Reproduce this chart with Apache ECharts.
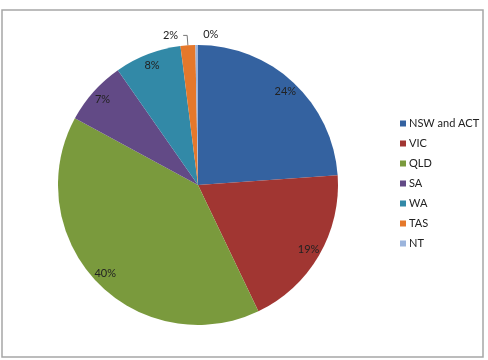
<!DOCTYPE html>
<html><head><meta charset="utf-8">
<script src="https://cdn.jsdelivr.net/npm/echarts@6/dist/echarts.min.js"></script>
<style>html,body{margin:0;padding:0;background:#fff;}#c{width:488px;height:360px;}</style>
</head><body><div id="c"></div>
<script>
const categories = ['NSW and ACT', 'VIC', 'QLD', 'SA', 'WA', 'TAS', 'NT'];
const values = [23.9, 19.0, 40.0, 7.4, 7.7, 1.7, 0.3];
const colors = ['#3462a0', '#a13632', '#7a9a3d', '#624a86', '#3289a7', '#e5782b', '#9bb4dc'];

const total = values.reduce((a, b) => a + b, 0);
const pct = v => Math.round(v / total * 100) + '%';
const font = 'Lato, "Open Sans", sans-serif';

const mainData = categories.map((c, i) => ({
  name: c, value: values[i],
  itemStyle: { color: colors[i] },
  label: c === 'TAS' ? { show: true } : { show: false },
  labelLine: c === 'TAS' ? { show: true } : { show: false }
}));

const labelData = categories.map((c, i) => {
  const d = { name: c, value: values[i], itemStyle: { color: 'rgba(0,0,0,0)' } };
  if (c === 'TAS') d.label = { show: false };
  if (c === 'NT') d.label = { show: true, offset: [14, -23] };
  return d;
});

const chart = echarts.init(document.getElementById('c'), null, { renderer: 'canvas' });
chart.setOption({
  backgroundColor: '#fff',
  animation: false,
  graphic: [{
    type: 'rect', shape: { x: 2, y: 10, width: 481, height: 347 },
    style: { fill: 'none', stroke: '#a6a6a6', lineWidth: 1.5 }, silent: true
  }],
  legend: {
    orient: 'vertical', left: 395, top: 113, itemWidth: 6, itemHeight: 6,
    itemGap: 9, icon: 'rect',
    textStyle: { fontFamily: font, fontSize: 11, color: '#222', padding: [0, 0, 0, -2] },
    data: categories
  },
  series: [{
    type: 'pie', center: [198, 185], radius: [0, 140],
    startAngle: 90, clockwise: true, silent: true,
    data: mainData,
    label: { position: 'outside', formatter: p => pct(p.value), fontFamily: font, fontSize: 11, color: '#222' },
    labelLine: { length: 10, length2: 4, lineStyle: { color: '#777', width: 1 }, smooth: false },
    itemStyle: { borderWidth: 0 }
  }, {
    type: 'pie', center: [198, 185], radius: [110, 140],
    startAngle: 90, clockwise: true, silent: true,
    data: labelData,
    label: { show: true, position: 'inside', formatter: p => pct(p.value), fontFamily: font, fontSize: 11, color: '#222' },
    labelLine: { show: false },
    itemStyle: { borderWidth: 0 }
  }]
});
</script></body></html>
